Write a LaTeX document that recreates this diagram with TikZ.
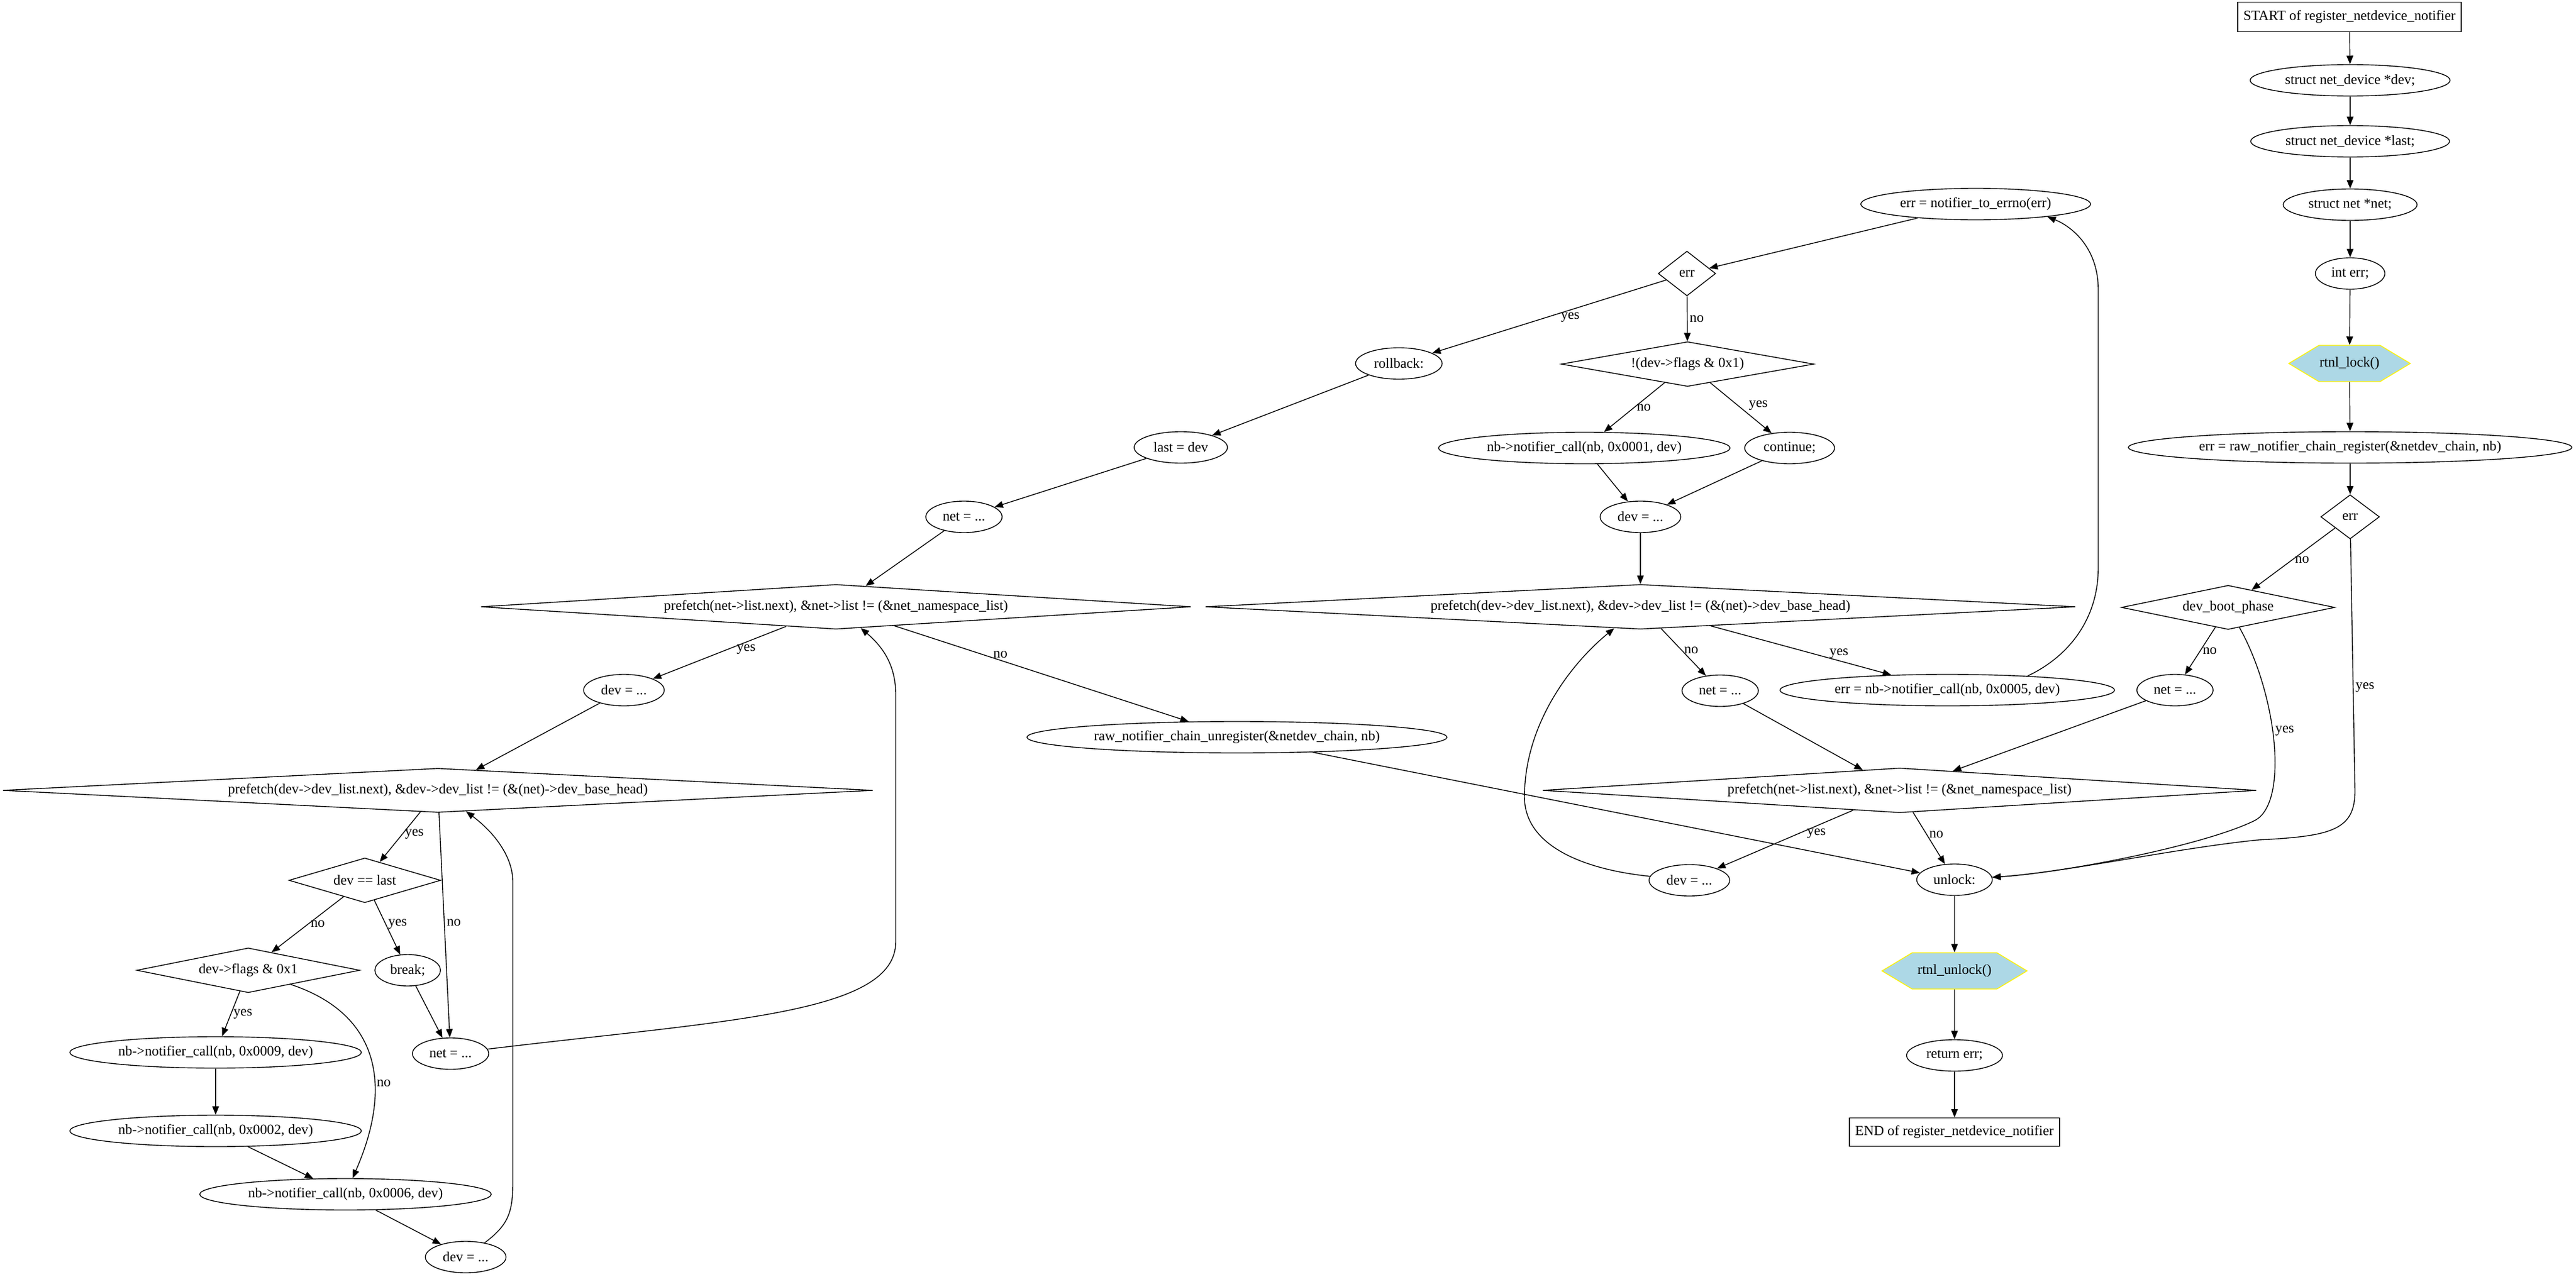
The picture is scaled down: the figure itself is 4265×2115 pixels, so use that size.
\documentclass[tikz,border=0pt]{standalone}
\usepackage{fontspec}
\setmainfont{Liberation Serif}
\usetikzlibrary{shapes.geometric, shapes.symbols, arrows.meta}
\definecolor{lockfill}{HTML}{ADD8E6}
\tikzset{
  stmt/.style={ellipse, draw, inner xsep=0.094cm, inner ysep=0.04cm, minimum height=0.52cm},
  term/.style={rectangle, draw, inner xsep=0.095cm, minimum height=0.49cm},
  cond/.style={diamond, draw, inner sep=0pt, minimum height=0.74cm},
  lockop/.style={signal, signal to=east and west, signal pointer angle=62, draw=yellow, fill=lockfill, inner sep=0pt, minimum height=0.60cm},
  lbl/.style={inner sep=1pt},
  flow/.style={-{Triangle[length=0.14cm, width=0.11cm]}}
}
\begin{document}
\begin{tikzpicture}[x=0.01cm, y=-0.01cm, font=\fontsize{6.6}{7.9}\selectfont]
\useasboundingbox (0,0) rectangle (4265,2115);
% right column
\node [term] (start) at (3890,28) {START of register\_netdevice\_notifier};
\node [stmt] (devdecl) at (3891,133) {struct net\_device *dev;};
\node [stmt] (lastdecl) at (3891,234) {struct net\_device *last;};
\node [stmt] (netdecl) at (3891,339) {struct net *net;};
\node [stmt] (errdecl) at (3891,453) {int err;};
\node [lockop, minimum width=2.01cm] (lock) at (3890,602) {rtnl\_lock()};
\node [stmt] (reg) at (3891,741) {err = raw\_notifier\_chain\_register(\&netdev\_chain, nb)};
\node [cond, minimum width=0.97cm, minimum height=0.73cm, aspect=1.3] (errchk) at (3891,856) {err};
\node [cond, minimum width=3.53cm, minimum height=0.73cm, aspect=4.8] (bootchk) at (3689,1006) {dev\_boot\_phase};
\node [stmt] (netR) at (3601,1143) {net = ...};
\node [cond, minimum width=11.81cm, aspect=16] (netloopR) at (3145,1309) {prefetch(net->list.next), \&net->list != (\&net\_namespace\_list)};
\node [stmt] (unlock) at (3236,1457) {unlock:};
\node [lockop, minimum width=2.4cm] (unlockfn) at (3236,1608) {rtnl\_unlock()};
\node [stmt] (ret) at (3236,1748) {return err;};
\node [term, minimum height=0.47cm] (finish) at (3236,1875) {END of register\_netdevice\_notifier};
% middle column
\node [stmt] (notif) at (3271,338) {err = notifier\_to\_errno(err)};
\node [cond, minimum width=0.95cm, aspect=1.3] (errchkM) at (2793,453) {err};
\node [stmt] (rollback) at (2316,602) {rollback:};
\node [cond, minimum width=4.18cm, aspect=5.6] (flagchkM) at (2794,603) {!(dev->flags \& 0x1)};
\node [stmt] (call1) at (2623,742) {nb->notifier\_call(nb, 0x0001, dev)};
\node [stmt] (cont) at (2963,742) {continue;};
\node [stmt] (devM) at (2716,856) {dev = ...};
\node [cond, minimum width=14.4cm, aspect=19.5] (devloopM) at (2716,1005) {prefetch(dev->dev\_list.next), \&dev->dev\_list != (\&(net)->dev\_base\_head)};
\node [stmt] (netM) at (2848,1144) {net = ...};
\node [stmt] (call5) at (3224,1143) {err = nb->notifier\_call(nb, 0x0005, dev)};
\node [stmt] (devMb) at (2797,1458) {dev = ...};
% left column
\node [stmt] (lastdev) at (1955,741) {last = dev};
\node [stmt] (netL) at (1596,856) {net = ...};
\node [cond, minimum width=11.75cm, aspect=16] (netloopL) at (1384,1005) {prefetch(net->list.next), \&net->list != (\&net\_namespace\_list)};
\node [stmt] (devL) at (1033,1143) {dev = ...};
\node [stmt] (unreg) at (2048,1221) {raw\_notifier\_chain\_unregister(\&netdev\_chain, nb)};
\node [cond, minimum width=14.4cm, minimum height=0.73cm, aspect=19.5] (devloopL) at (725,1309) {prefetch(dev->dev\_list.next), \&dev->dev\_list != (\&(net)->dev\_base\_head)};
\node [cond, minimum width=2.51cm, aspect=3.4] (lastchk) at (604,1458) {dev == last};
\node [cond, minimum width=3.69cm, aspect=5] (flagchkL) at (411,1607) {dev->flags \& 0x1};
\node [stmt] (brk) at (675,1607) {break;};
\node [stmt] (call9) at (357,1743) {nb->notifier\_call(nb, 0x0009, dev)};
\node [stmt] (netB) at (746,1745) {net = ...};
\node [stmt] (call2) at (357,1873) {nb->notifier\_call(nb, 0x0002, dev)};
\node [stmt] (call6) at (572,1978) {nb->notifier\_call(nb, 0x0006, dev)};
\node [stmt] (devB) at (771,2082) {dev = ...};

\draw [flow] (start) -- (devdecl);
\draw [flow] (devdecl) -- (lastdecl);
\draw [flow] (lastdecl) -- (netdecl);
\draw [flow] (netdecl) -- (errdecl);
\draw [flow] (errdecl) -- (lock);
\draw [flow] (lock) -- (reg);
\draw [flow] (reg) -- (errchk);
\draw [flow] (errchk) -- node [lbl, pos=0.51, right] {no} (bootchk);
\draw [flow] (errchk) -- (3899,1310) node [lbl, pos=0.59, right] {yes} .. controls (3899,1375) and (3860,1385) .. (3740,1391) .. controls (3600,1405) and (3420,1445) .. (unlock);
\draw [flow] (bootchk) -- node [lbl, pos=0.5, right] {no} (netR);
\draw [flow] (bootchk) .. controls (3770,1150) and (3790,1330) .. (3733,1359) node [lbl, pos=0.45, right] {yes} .. controls (3650,1400) and (3420,1445) .. (unlock);
\draw [flow] (netR) -- (netloopR);
\draw [flow] (netloopR) -- node [lbl, pos=0.27, below] {yes} (devMb);
\draw [flow] (netloopR) -- node [lbl, pos=0.43, right] {no} (unlock);
\draw [flow] (unlock) -- (unlockfn);
\draw [flow] (unlockfn) -- (ret);
\draw [flow] (ret) -- (finish);

\draw [flow] (notif) -- (errchkM);
\draw [flow] (errchkM) -- node [lbl, pos=0.41, below] {yes} (rollback);
\draw [flow] (errchkM) -- node [lbl, pos=0.5, right] {no} (flagchkM);
\draw [flow] (flagchkM) -- node [lbl, pos=0.5, right] {no} (call1);
\draw [flow] (flagchkM) -- node [lbl, pos=0.45, right=4pt] {yes} (cont);
\draw [flow] (call1) -- (devM);
\draw [flow] (cont) -- (devM);
\draw [flow] (devM) -- (devloopM);
\draw [flow] (devloopM) -- node [lbl, pos=0.46, right] {no} (netM);
\draw [flow] (devloopM) -- node [lbl, pos=0.71, above] {yes} (call5);
\draw [flow] (netM) -- (netloopR);
\draw [flow] (call5.10) .. controls (3420,1090) and (3474,1030) .. (3474,940) -- (3474,480) .. controls (3474,410) and (3430,375) .. (notif.-10);
\draw [flow] (devMb) .. controls (2620,1440) and (2524,1400) .. (2524,1320) .. controls (2524,1200) and (2600,1100) .. (devloopM);

\draw [flow] (rollback) -- (lastdev);
\draw [flow] (lastdev) -- (netL);
\draw [flow] (netL) -- (netloopL);
\draw [flow] (netloopL) -- node [lbl, pos=0.3, below] {yes} (devL);
\draw [flow] (netloopL) -- node [lbl, pos=0.36, above] {no} (unreg);
\draw [flow] (unreg) -- (unlock);
\draw [flow] (devL) -- (devloopL);
\draw [flow] (devloopL) -- node [lbl, pos=0.44, right] {yes} (lastchk);
\draw [flow] (devloopL) -- node [lbl, pos=0.49, right] {no} (netB);
\draw [flow] (lastchk) -- node [lbl, pos=0.49, right] {no} (flagchkL);
\draw [flow] (lastchk) -- node [lbl, pos=0.44, right] {yes} (brk);
\draw [flow] (flagchkL) -- node [lbl, pos=0.5, right] {yes} (call9);
\draw [flow] (flagchkL) .. controls (630,1680) and (650,1800) .. (call6) node [lbl, pos=0.62, right] {no};
\draw [flow] (brk) -- (netB);
\draw [flow] (call9) -- (call2);
\draw [flow] (call2) -- (call6);
\draw [flow] (call6) -- (devB);
\draw [flow] (devB) .. controls (840,2030) and (849,2010) .. (849,1960) -- (849,1460) .. controls (849,1420) and (820,1380) .. (devloopL);
\draw [flow] (netB) .. controls (1200,1690) and (1483,1680) .. (1483,1560) -- (1483,1150) .. controls (1483,1100) and (1460,1070) .. (netloopL);
\end{tikzpicture}
\end{document}
